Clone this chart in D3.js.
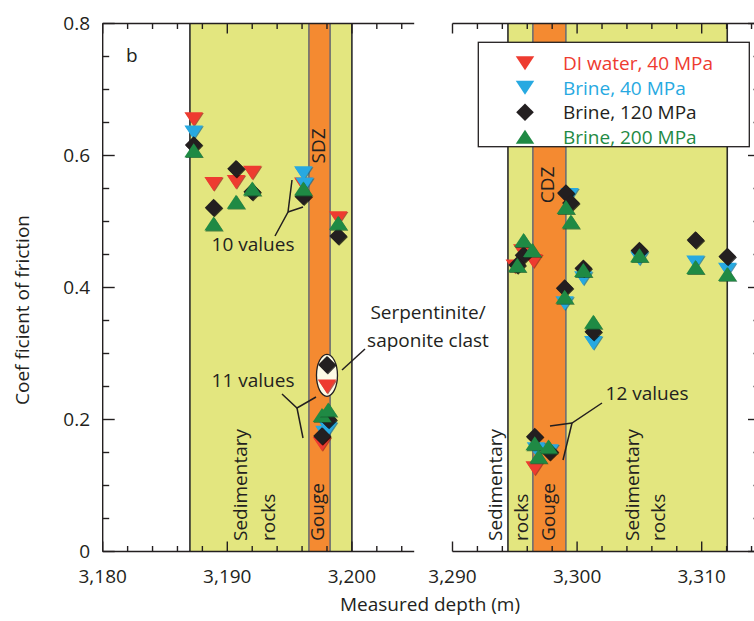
<!DOCTYPE html>
<html><head><meta charset="utf-8">
<script src="https://cdn.jsdelivr.net/npm/d3@7"></script>
<style>
html,body{margin:0;padding:0;background:#fff;}
svg{display:block;font-family:"Open Sans","Noto Sans",sans-serif;}
</style></head>
<body>
<svg id="chart" width="754" height="621"></svg>
<script>
// ---------- data ----------
const seriesNames = ["DI water, 40 MPa", "Brine, 40 MPa", "Brine, 120 MPa", "Brine, 200 MPa"];
const seriesColors = ["#ee3b30", "#27a9e1", "#231f20", "#1f8a44"];
const seriesShapes = ["down", "down", "diamond", "up"];

const yTicksMajor = [0, 0.2, 0.4, 0.6, 0.8];
const yTickLabels = ["0", "0.2", "0.4", "0.6", "0.8"];
const leftTickLabels = ["3,180", "3,190", "3,200"];
const rightTickLabels = ["3,290", "3,300", "3,310"];

// left panel (SDZ)  [depth m, friction coefficient]
const diLeft   = [[3187.3,0.655],[3188.9,0.557],[3190.7,0.560],[3192.0,0.574],[3196.1,0.556],[3198.9,0.505],[3197.6,0.163]];
const b40Left  = [[3187.3,0.635],[3196.1,0.573],[3196.2,0.556],[3197.8,0.180],[3198.1,0.186]];
const b120Left = [[3187.3,0.616],[3188.9,0.521],[3190.7,0.580],[3192.0,0.545],[3196.1,0.538],[3198.9,0.478],[3197.6,0.175],[3198.1,0.200]];
const b200Left = [[3187.3,0.608],[3188.9,0.497],[3190.7,0.530],[3192.0,0.550],[3196.1,0.550],[3198.9,0.498],[3197.6,0.207],[3198.1,0.215]];
// serpentinite / saponite clast
const clastDI   = [[3198.0,0.250]];
const clastB120 = [[3198.0,0.283]];

// right panel (CDZ)
const diRight   = [[3295.0,0.432],[3295.6,0.455],[3296.5,0.440],[3296.6,0.126]];
const b40Right  = [[3299.4,0.540],[3300.5,0.414],[3299.0,0.376],[3301.3,0.316],[3305.0,0.444],[3309.5,0.438],[3312.05,0.427],[3296.7,0.155],[3297.8,0.152]];
const b120Right = [[3299.1,0.543],[3299.5,0.528],[3295.7,0.449],[3295.2,0.434],[3300.5,0.429],[3299.0,0.399],[3301.3,0.333],[3305.0,0.456],[3309.5,0.472],[3312.05,0.447],[3296.6,0.174],[3297.8,0.151]];
const b200Right = [[3299.1,0.522],[3299.5,0.500],[3295.7,0.472],[3296.4,0.457],[3295.2,0.434],[3300.5,0.4265],[3299.0,0.386],[3301.3,0.348],[3305.0,0.449],[3309.5,0.431],[3312.05,0.4205],[3296.6,0.164],[3297.7,0.159],[3296.9,0.144]];

// zones [from, to]
const leftSediment = [3187.0, 3200.0];
const leftGouge    = [3196.55, 3198.25];
const rightSediment = [3294.45, 3312.05];
const rightGouge    = [3296.45, 3299.1];

// ---------- layout ----------
const svg = d3.select("#chart");
const y = d3.scaleLinear().domain([0, 0.8]).range([551.5, 23.5]);
const xL = d3.scaleLinear().domain([3180, 3205]).range([102.7, 414.2]);
const xR = d3.scaleLinear().domain([3290, 3315]).range([452.5, 764.0]);
const fontSize = 19;
const YELLOW = "#e3e67f", ORANGE = "#f48a31";
const shadowColors = ["#9e2a22", "#1b6f93", "#000000", "#155c2e"];

function markerPath(shape) {
  const w = 18.5, h = 14, d = 8.8;
  if (shape === "down") return `M${-w/2},${-h/2}L${w/2},${-h/2}L0,${h/2}Z`;
  if (shape === "up") return `M${-w/2},${h/2}L${w/2},${h/2}L0,${-h/2}Z`;
  return `M0,${-d}L${d},0L0,${d}L${-d},0Z`;
}

function drawBands(x, sed, gouge) {
  const g = svg.append("g");
  g.append("rect").attr("x", x(sed[0])).attr("y", y(0.8)).attr("width", x(sed[1]) - x(sed[0]))
    .attr("height", y(0) - y(0.8)).attr("fill", YELLOW);
  g.append("rect").attr("x", x(gouge[0])).attr("y", y(0.8)).attr("width", x(gouge[1]) - x(gouge[0]))
    .attr("height", y(0) - y(0.8)).attr("fill", ORANGE);
  [gouge[0], gouge[1]].forEach(v => g.append("line").attr("x1", x(v)).attr("x2", x(v))
    .attr("y1", y(0.8)).attr("y2", y(0)).attr("stroke", "#6d6e71").attr("stroke-width", 1.6));
  [sed[0], sed[1]].forEach(v => g.append("line").attr("x1", x(v)).attr("x2", x(v))
    .attr("y1", y(0.8)).attr("y2", y(0)).attr("stroke", "#2b2b2b").attr("stroke-width", 1.6));
}

function drawXAxis(x, d0, d1, endX, labels, majors) {
  const g = svg.append("g").attr("stroke", "#231f20").attr("stroke-width", 1.4);
  [y(0), y(0.8)].forEach((yy, i) => {
    g.append("line").attr("x1", x(d0)).attr("x2", endX).attr("y1", yy).attr("y2", yy);
    const dir = i === 0 ? -1 : 1;
    d3.range(d0, d1 + 0.001, 2).forEach(v => {
      const maj = majors.includes(v);
      if (x(v) > endX + 0.5) return;
      g.append("line").attr("x1", x(v)).attr("x2", x(v)).attr("y1", yy).attr("y2", yy + dir * (maj ? 10 : 5.5));
    });
  });
  majors.forEach((v, i) => svg.append("text").attr("x", x(v)).attr("y", 583).attr("text-anchor", "middle")
    .attr("font-size", fontSize).attr("fill", "#231f20").text(labels[i]));
}

function drawYAxis(xx, dir, withLabels) {
  const g = svg.append("g").attr("stroke", "#231f20").attr("stroke-width", 1.4);
  g.append("line").attr("x1", xx).attr("x2", xx).attr("y1", y(0)).attr("y2", y(0.8));
  d3.range(0, 0.8001, 0.05).forEach(v => {
    const maj = Math.abs(v / 0.2 - Math.round(v / 0.2)) < 1e-6;
    g.append("line").attr("x1", xx).attr("x2", xx + dir * (maj ? 12 : 6.5)).attr("y1", y(v)).attr("y2", y(v));
  });
  if (withLabels) yTicksMajor.forEach((v, i) => svg.append("text").attr("x", 90).attr("y", y(v))
    .attr("dy", "0.36em").attr("text-anchor", "end").attr("font-size", fontSize).attr("fill", "#231f20").text(yTickLabels[i]));
}

function drawSeries(x, data, k) {
  const g = svg.append("g");
  data.forEach(d => {
    g.append("path").attr("d", markerPath(seriesShapes[k]))
      .attr("transform", `translate(${x(d[0]) + 0.9},${y(d[1]) + 0.9})`)
      .attr("fill", shadowColors[k]).attr("opacity", 0.75);
    g.append("path").attr("d", markerPath(seriesShapes[k]))
      .attr("transform", `translate(${x(d[0])},${y(d[1])})`)
      .attr("fill", seriesColors[k]);
  });
}

function vText(xx, yy, txt, anchor) {
  svg.append("text").attr("transform", `translate(${xx},${yy}) rotate(-90)`)
    .attr("text-anchor", anchor || "start").attr("dy", "0.35em")
    .attr("font-size", fontSize).attr("fill", "#231f20").text(txt);
}
function hText(xx, yy, txt, anchor) {
  svg.append("text").attr("x", xx).attr("y", yy).attr("text-anchor", anchor || "middle")
    .attr("font-size", fontSize).attr("fill", "#231f20").text(txt);
}
function leader(pts) {
  svg.append("path").attr("d", d3.line()(pts)).attr("fill", "none").attr("stroke", "#231f20").attr("stroke-width", 1.5);
}

// ---------- left panel ----------
drawBands(xL, leftSediment, leftGouge);
drawYAxis(xL(3180), 1, true);
drawXAxis(xL, 3180, 3204, xL(3205), leftTickLabels, [3180, 3190, 3200]);

// ---------- right panel ----------
drawBands(xR, rightSediment, rightGouge);
drawXAxis(xR, 3290, 3314, 760, rightTickLabels, [3290, 3300, 3310]);
drawYAxis(760, -1, false);

// zone labels
hText(126, 62, "b", "start");
vText(318, 146, "SDZ", "middle");
vText(547, 185, "CDZ", "middle");
vText(240, 541, "Sedimentary");
vText(268, 541, "rocks");
vText(317, 541, "Gouge");
vText(495, 541, "Sedimentary");
vText(521, 541, "rocks");
vText(548, 541, "Gouge");
vText(632, 541, "Sedimentary");
vText(658, 541, "rocks");

// annotations
leader([[275, 236], [288, 212], [292, 180]]);
leader([[288, 212], [303, 207]]);
hText(253, 251, "10 values");
leader([[282, 394], [297, 408], [316, 397]]);
leader([[297, 408], [303, 438]]);
hText(253, 387, "11 values");
leader([[602, 403], [572, 423], [550, 426]]);
leader([[572, 423], [563, 460]]);
hText(647, 400, "12 values");
leader([[342, 370], [365, 349]]);
hText(428, 319, "Serpentinite/");
hText(428, 347, "saponite clast");

// series (draw order: red, blue, black, green)
[[diLeft, diRight], [b40Left, b40Right], [b120Left, b120Right], [b200Left, b200Right]].forEach((pair, k) => {
  drawSeries(xL, pair[0], k);
  drawSeries(xR, pair[1], k);
});

// clast ellipse
svg.append("ellipse").attr("cx", xL(3198.0)).attr("cy", y(0.267)).attr("rx", 10.5).attr("ry", 21)
  .attr("fill", "#fdfbe6").attr("stroke", "#231f20").attr("stroke-width", 1.3);
drawSeries(xL, clastDI, 0);
drawSeries(xL, clastB120, 2);

// axis titles
svg.append("text").attr("x", 430).attr("y", 611).attr("text-anchor", "middle").attr("font-size", fontSize)
  .attr("fill", "#231f20").text("Measured depth (m)");
svg.append("text").attr("transform", "translate(29,310) rotate(-90)").attr("text-anchor", "middle")
  .attr("font-size", fontSize).attr("fill", "#231f20").text("Coef ficient of friction");

// legend
const lg = svg.append("g");
lg.append("rect").attr("x", 478.3).attr("y", 42.3).attr("width", 271).attr("height", 104.4)
  .attr("fill", "#fff").attr("stroke", "#231f20").attr("stroke-width", 1.3);
seriesNames.forEach((name, k) => {
  const yy = 63.3 + k * 24.5;
  lg.append("path").attr("d", markerPath(seriesShapes[k])).attr("transform", `translate(525,${yy})`).attr("fill", seriesColors[k]);
  lg.append("text").attr("x", 563).attr("y", yy).attr("dy", "0.36em").attr("font-size", fontSize)
    .attr("fill", seriesColors[k]).text(name);
});
</script>
</body></html>
